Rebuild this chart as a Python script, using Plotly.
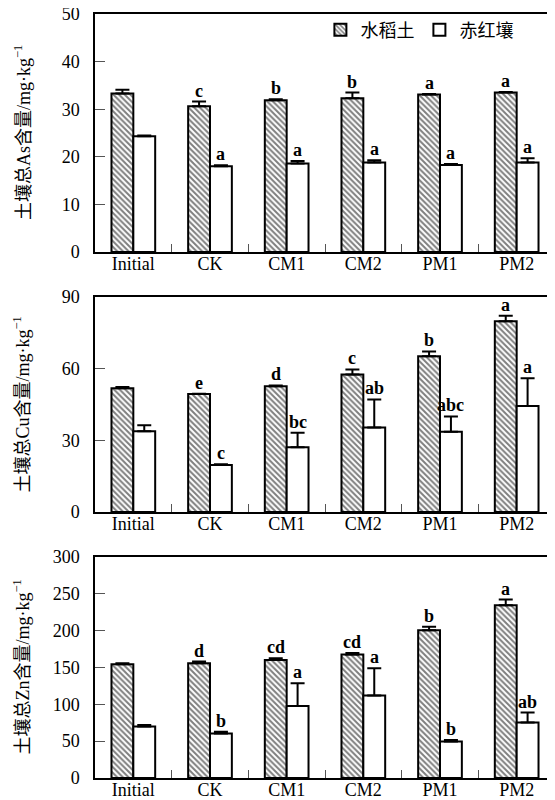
import plotly.graph_objects as go
from plotly.subplots import make_subplots

categories = ["Initial", "CK", "CM1", "CM2", "PM1", "PM2"]
series_names = ["水稻土", "赤红壤"]

as_paddy = [33.3, 30.6, 31.9, 32.3, 33.1, 33.5]
as_paddy_err = [0.8, 1.0, 0.2, 1.2, 0.1, 0.1]
as_red = [24.3, 18.0, 18.6, 18.8, 18.3, 18.8]
as_red_err = [0.2, 0.2, 0.5, 0.5, 0.2, 0.9]
as_paddy_sig = ["", "c", "b", "b", "a", "a"]
as_red_sig = ["", "a", "a", "a", "a", "a"]

cu_paddy = [51.8, 49.4, 52.6, 57.6, 65.2, 79.8]
cu_paddy_err = [0.5, 0.1, 0.4, 2.1, 2.0, 2.4]
cu_red = [33.8, 19.7, 27.1, 35.4, 33.6, 44.4]
cu_red_err = [2.5, 0.3, 6.1, 11.7, 6.4, 11.6]
cu_paddy_sig = ["", "e", "d", "c", "b", "a"]
cu_red_sig = ["", "c", "bc", "ab", "abc", "a"]

zn_paddy = [154.3, 155.6, 160.1, 167.8, 200.7, 234.5]
zn_paddy_err = [1.5, 2.5, 2.5, 2.0, 4.5, 7.7]
zn_red = [69.9, 60.4, 97.9, 111.9, 49.6, 75.3]
zn_red_err = [2.0, 2.5, 30.7, 37.0, 2.0, 13.6]
zn_paddy_sig = ["", "d", "cd", "cd", "b", "a"]
zn_red_sig = ["", "b", "a", "a", "b", "ab"]

y_titles = ["土壤总As含量/mg·kg<sup>−1</sup>",
            "土壤总Cu含量/mg·kg<sup>−1</sup>",
            "土壤总Zn含量/mg·kg<sup>−1</sup>"]
y_ranges = [[0, 50], [0, 90], [0, 300]]
y_ticks = [[0, 10, 20, 30, 40, 50], [0, 30, 60, 90], [0, 50, 100, 150, 200, 250, 300]]

panels = [
    (as_paddy, as_paddy_err, as_paddy_sig, as_red, as_red_err, as_red_sig),
    (cu_paddy, cu_paddy_err, cu_paddy_sig, cu_red, cu_red_err, cu_red_sig),
    (zn_paddy, zn_paddy_err, zn_paddy_sig, zn_red, zn_red_err, zn_red_sig),
]

# the page body adds an 8px offset; size the figure to fill the rest
OFF = 8
W, H = 555 - OFF, 800 - OFF
ML = 95 - OFF
plot_w = W - ML
bargap = 0.43
bar_px = plot_w / len(categories) * (1 - bargap) / 2

# vertical domains (screen pixel top, pixel bottom)
pix = [(14, 252), (297, 512), (557, 778)]
domains = [[1 - (b - OFF) / H, 1 - (t - OFF) / H] for t, b in pix]

fig = make_subplots(rows=3, cols=1)

serif = "Liberation Serif, Times New Roman, serif"
cjk = "Liberation Serif, Noto Sans CJK SC, serif"

for i, (pv, pe, ps, rv, re_, rs) in enumerate(panels):
    row = i + 1
    fig.add_trace(go.Bar(
        x=categories, y=pv, name=series_names[0], showlegend=(i == 0),
        marker=dict(color="white", line=dict(color="black", width=2),
                    pattern=dict(shape="\\", fgcolor="black", bgcolor="white",
                                 size=4, solidity=0.5)),
        error_y=dict(type="data", symmetric=False, array=pe,
                     arrayminus=[0] * len(pe), color="black", thickness=2, width=7),
    ), row=row, col=1)
    fig.add_trace(go.Bar(
        x=categories, y=rv, name=series_names[1], showlegend=(i == 0),
        marker=dict(color="white", line=dict(color="black", width=2)),
        error_y=dict(type="data", symmetric=False, array=re_,
                     arrayminus=[0] * len(re_), color="black", thickness=2, width=7),
    ), row=row, col=1)

    xref = "x" if i == 0 else f"x{row}"
    yref = "y" if i == 0 else f"y{row}"
    for vals, errs, sigs, sh in ((pv, pe, ps, -bar_px / 2), (rv, re_, rs, bar_px / 2)):
        for c, v, e, s in zip(categories, vals, errs, sigs):
            if s:
                fig.add_annotation(x=c, y=v + e, xref=xref, yref=yref,
                                   text=f"<b>{s}</b>", showarrow=False,
                                   xshift=sh, yanchor="bottom", yshift=-1,
                                   font=dict(family=serif, size=18, color="black"))

    fig.update_yaxes(range=y_ranges[i], tickvals=y_ticks[i], domain=domains[i],
                     showline=True, linecolor="black", linewidth=1.5,
                     ticks="inside", ticklen=10, tickcolor="#555", tickwidth=1,
                     ticklabelstandoff=10, ticklabeloverflow="allow",
                     showgrid=False, zeroline=False, automargin=False,
                     tickfont=dict(family=serif, size=18, color="black"),
                     row=row, col=1)
    fig.update_xaxes(domain=[0, 1], showline=True, mirror=True, linecolor="black",
                     linewidth=1.5, ticks="inside", ticklen=8, tickcolor="#555",
                     tickwidth=1, tickson="boundaries", showgrid=False,
                     automargin=False, ticklabelstandoff=-5,
                     ticklabeloverflow="allow",
                     tickfont=dict(family=serif, size=18, color="black"),
                     row=row, col=1)

    # y axis titles
    mid = 1 - ((pix[i][0] + pix[i][1]) / 2 - OFF) / H
    fig.add_annotation(x=(22 - 95) / plot_w, y=mid, xref="paper", yref="paper",
                       text=y_titles[i], textangle=-90, showarrow=False,
                       xanchor="center", yanchor="middle",
                       font=dict(family=cjk, size=18, color="black"))

fig.update_layout(
    width=W, height=H,
    margin=dict(l=ML, r=0, t=0, b=0),
    barmode="group", bargap=bargap, bargroupgap=0,
    plot_bgcolor="white", paper_bgcolor="white",
    font=dict(family=serif, color="black"),
    legend=dict(orientation="h", x=0.49, y=1 - (30 - OFF) / H, xanchor="left",
                yanchor="middle", bgcolor="rgba(0,0,0,0)",
                font=dict(family="Noto Sans CJK SC", size=18, color="black"),
                itemwidth=30, tracegroupgap=0),
)

fig.write_html("out.html")
